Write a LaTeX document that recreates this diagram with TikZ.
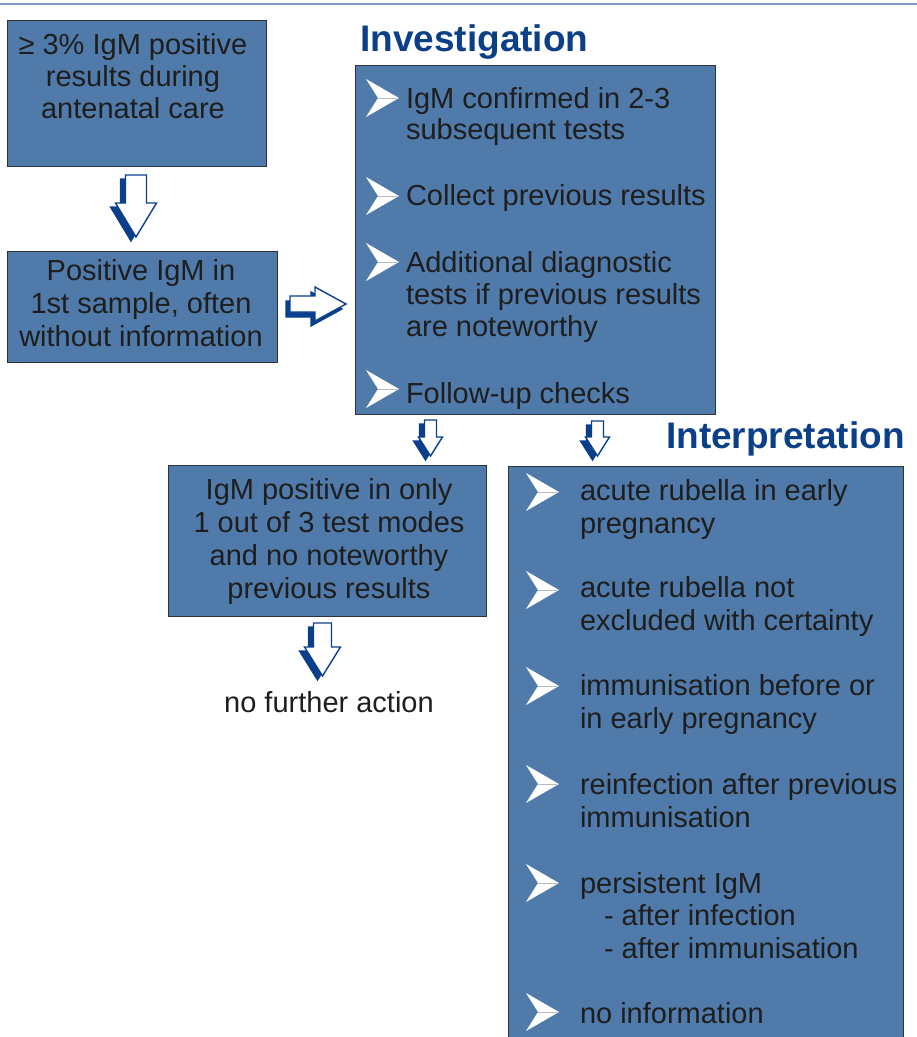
\documentclass[tikz,border=0pt]{standalone}
\usepackage{fontspec}
\setmainfont{Liberation Sans}
\definecolor{boxblue}{HTML}{4F7AAA}
\definecolor{boxline}{HTML}{2E3238}
\definecolor{titleblue}{HTML}{0B4088}
\definecolor{arrowblue}{HTML}{0A3F8C}
\definecolor{txtcol}{HTML}{1E1E1E}
\definecolor{topline}{HTML}{7E9BC2}
\newcommand\dnblk[6]{% cx, top, headstart, tip, shaft half, head half
  \begin{scope}[shift={(-5,4)}]
    \filldraw[fill=arrowblue,draw=arrowblue,line width=1.3pt] (#1-#5,#2) -- (#1+#5,#2) -- (#1+#5,#3) -- (#1+#6,#3) -- (#1,#4) -- (#1-#6,#3) -- (#1-#5,#3) -- cycle;
  \end{scope}
  \filldraw[fill=white,draw=arrowblue,line width=1.4pt] (#1-#5,#2) -- (#1+#5,#2) -- (#1+#5,#3) -- (#1+#6,#3) -- (#1,#4) -- (#1-#6,#3) -- (#1-#5,#3) -- cycle;}
\newcommand\rtblk[6]{% left, cy, headstart, tip, shaft half, head half
  \begin{scope}[shift={(-4,5)}]
    \filldraw[fill=arrowblue,draw=arrowblue,line width=1.3pt] (#1,#2-#5) -- (#3,#2-#5) -- (#3,#2-#6) -- (#4,#2) -- (#3,#2+#6) -- (#3,#2+#5) -- (#1,#2+#5) -- cycle;
  \end{scope}
  \filldraw[fill=white,draw=arrowblue,line width=1.4pt] (#1,#2-#5) -- (#3,#2-#5) -- (#3,#2-#6) -- (#4,#2) -- (#3,#2+#6) -- (#3,#2+#5) -- (#1,#2+#5) -- cycle;}
\begin{document}
\begin{tikzpicture}[x=1pt,y=-1pt,
  box/.style={draw=boxline,line width=1.1pt,fill=boxblue,inner sep=0pt,anchor=north west},
  txt/.style={text=txtcol,font=\fontsize{29}{32.5}\selectfont,inner sep=0pt,outer sep=0pt},
  ttl/.style={text=titleblue,font=\fontsize{37}{40}\selectfont\bfseries,inner sep=0pt,anchor=base west},
  chev/.pic={\fill[white] (-16,-19) -- (17,0) -- (-16,19) -- (-4,0) -- cycle;
             \draw[gray!55,line width=0.6pt] (-4,0) -- (15,0);}]
\useasboundingbox (0,0) rectangle (917,1037);
\clip (0,0) rectangle (917,1037);
\draw[topline,line width=2.5pt] (0,4) -- (917,4);
% boxes
\node[box,minimum width=259pt,minimum height=146pt] (b1) at (7,20) {};
\node[box,minimum width=270pt,minimum height=111pt] (b2) at (7,251) {};
\node[box,minimum width=360pt,minimum height=349pt] (inv) at (355,65) {};
\node[box,minimum width=318pt,minimum height=151pt] (b3) at (168,465) {};
\node[box,minimum width=395pt,minimum height=600pt] (int) at (508,466) {};
% titles
\node[ttl] (tinv) at (360,51) {Investigation};
\node[ttl] (tint) at (666,448) {Interpretation};
% texts (base anchor = baseline of last line)
\node[txt,align=center,anchor=base,font=\fontsize{29}{32}\selectfont] (t1) at (133,118) {≥ 3\% IgM positive\\results during\\antenatal care};
\node[txt,align=center,anchor=base,font=\fontsize{29}{33}\selectfont] (t2) at (141,346) {Positive IgM in\\1st sample, often\\without information};
\node[txt,align=center,anchor=base,font=\fontsize{29}{32.7}\selectfont] (t3) at (329,598) {IgM positive in only\\1 out of 3 test modes\\and no noteworthy\\previous results};
\node[txt,anchor=base] (t4) at (329,712) {no further action};
% investigation items
\node[txt,align=left,anchor=base west,font=\fontsize{29}{31}\selectfont] (i1) at (406,139) {IgM confirmed in 2-3\\subsequent tests};
\node[txt,anchor=base west] (i2) at (406,205) {Collect previous results};
\node[txt,align=left,anchor=base west,font=\fontsize{29}{31.8}\selectfont] (i3) at (406,336) {Additional diagnostic\\tests if previous results\\are noteworthy};
\node[txt,anchor=base west] (i4) at (406,403) {Follow-up checks};
\pic at (382,98) {chev};
\pic at (382,196) {chev};
\pic at (382,262) {chev};
\pic at (382,389) {chev};
% interpretation items
\node[txt,align=left,anchor=base west] (p1) at (580,533) {acute rubella in early\\pregnancy};
\node[txt,align=left,anchor=base west] (p2) at (580,630) {acute rubella not\\excluded with certainty};
\node[txt,align=left,anchor=base west] (p3) at (580,728) {immunisation before or\\in early pregnancy};
\node[txt,align=left,anchor=base west] (p4) at (580,827) {reinfection after previous\\immunisation};
\node[txt,align=left,anchor=base west] (p5) at (580,958) {persistent IgM\\\hspace*{24pt}- after infection\\\hspace*{24pt}- after immunisation};
\node[txt,anchor=base west] (p6) at (580,1023) {no information};
\pic at (542,492) {chev};
\pic at (542,590) {chev};
\pic at (542,686) {chev};
\pic at (542,784) {chev};
\pic at (542,883) {chev};
\pic at (542,1012) {chev};
% block arrows
\dnblk{136}{175}{203}{237}{10.5}{20.5}
\rtblk{290}{304}{315}{346}{8}{17}
\dnblk{430.5}{420}{437}{456}{6}{12}
\dnblk{597.5}{421}{437}{456}{6}{12}
\dnblk{322.5}{623}{647}{676}{9}{18}
\end{tikzpicture}
\end{document}
